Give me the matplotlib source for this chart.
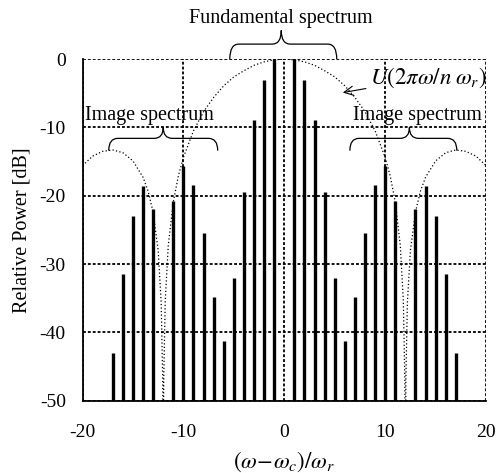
import numpy as np
import matplotlib
matplotlib.use("Agg")
import matplotlib.pyplot as plt
from matplotlib.path import Path
from matplotlib.patches import PathPatch

plt.rcParams['font.family'] = ['Liberation Serif', 'DejaVu Serif']
plt.rcParams['mathtext.fontset'] = 'stix'
plt.rcParams['axes.unicode_minus'] = False

# line spectrum (harmonic index, relative power in dB)
harmonics = [-17, -16, -15, -14, -13, -11, -10, -9, -8, -7, -6, -5, -4, -3, -2, -1,
             1, 2, 3, 4, 5, 6, 7, 8, 9, 10, 11, 13, 14, 15, 16, 17]
power_db = [-43.0, -31.5, -22.9, -18.6, -22.0, -20.7, -15.6, -18.5, -25.4, -34.9, -41.3,
            -32.0, -19.5, -8.9, -3.1, 0.0,
            0.0, -3.1, -8.9, -19.5, -32.0, -41.3, -34.9, -25.4, -18.5, -15.6, -20.7,
            -22.0, -18.6, -22.9, -31.5, -43.0]

# envelope U(2*pi*w/n*w_r)
env_x = [-20, -19, -18, -17, -16, -15, -14, -13.5, -13, -12.5, -12.2, -12.05, -12,
         -11.95, -11.8, -11.5, -11, -10.5, -10, -9, -8, -7, -6, -5, -4, -3, -2, -1, 0,
         1, 2, 3, 4, 5, 6, 7, 8, 9, 10, 10.5, 11, 11.5, 11.8, 11.95,
         12, 12.05, 12.2, 12.5, 13, 13.5, 14, 15, 16, 17, 18, 19, 20]
env_db = [-15.6, -14.2, -13.5, -13.3, -13.7, -14.9, -17.3, -19.3, -22.4, -28.0, -35.7, -47.0, -70.0,
          -47.0, -35.4, -27.3, -20.9, -17.1, -14.4, -10.5, -7.7, -5.6, -3.9, -2.6, -1.7, -0.9, -0.4, -0.1, 0.0,
          -0.1, -0.4, -0.9, -1.7, -2.6, -3.9, -5.6, -7.7, -10.5, -14.4, -17.1, -20.9, -27.3, -35.4, -47.0,
          -70.0, -47.0, -35.7, -28.0, -22.4, -19.3, -17.3, -14.9, -13.7, -13.3, -13.5, -14.2, -15.6]

xticks = [-20, -10, 0, 10, 20]
yticks = [0, -10, -20, -30, -40, -50]


def brace(ax, x0, x1, xm, y0, yh, ytip, clip=True):
    r = 0.9
    verts = [(x0, y0), (x0, yh), (x0 + r, yh), (xm - r, yh), (xm, yh), (xm, ytip),
             (xm, yh), (xm + r, yh), (x1 - r, yh), (x1, yh), (x1, y0)]
    codes = [Path.MOVETO, Path.CURVE3, Path.CURVE3, Path.LINETO, Path.CURVE3, Path.CURVE3,
             Path.CURVE3, Path.CURVE3, Path.LINETO, Path.CURVE3, Path.CURVE3]
    p = PathPatch(Path(verts, codes), fill=False, lw=0.9, color='k', clip_on=clip, zorder=5)
    ax.add_patch(p)


fig = plt.figure(figsize=(4.97, 4.73), dpi=100)
ax = fig.add_axes([0.166, 0.153, 0.812, 0.722])

ax.set_xlim(-20, 20)
ax.set_ylim(-50, 0)
ax.set_xticks(xticks)
ax.set_yticks(yticks)
ax.tick_params(length=0, labelsize=14)
ax.tick_params(axis='x', pad=17)
ax.tick_params(axis='y', pad=12)

ax.grid(True, color='k', linestyle=(0, (1.6, 1.1)), lw=1.3, zorder=1)
ax.set_axisbelow(True)
for s in ['top', 'right']:
    ax.spines[s].set_visible(False)
for s in ['left', 'bottom']:
    ax.spines[s].set_linewidth(1.3)

ax.plot(env_x, env_db, color='k', linestyle=(0, (1, 1.8)), lw=0.9, zorder=2)
ax.vlines(harmonics, -50, power_db, color='k', lw=2.4, zorder=3)

ax.set_xlabel(r'$(\omega\!-\!\omega_c)/\omega_r$', fontsize=16.5, labelpad=6)
ax.set_ylabel('Relative Power [dB]', fontsize=14.5, labelpad=6)

# fundamental spectrum brace above the axes
brace(ax, -5.4, 5.2, -0.3, 0.0, 2.2, 4.2, clip=False)
ax.text(-0.3, 6.0, 'Fundamental spectrum', fontsize=14.5, ha='center', va='center')

# image spectrum braces
brace(ax, -17.4, -6.6, -12.0, -13.4, -11.6, -10.0)
ax.text(-13.4, -8.2, 'Image spectrum', fontsize=14.5, ha='center', va='center', zorder=6)
brace(ax, 6.5, 17.1, 12.4, -13.4, -11.6, -10.0)
ax.text(13.2, -8.2, 'Image spectrum', fontsize=14.5, ha='center', va='center', zorder=6)

ax.annotate(r'$U(2\pi\omega/n\;\omega_r)$', xy=(5.8, -4.9), xytext=(8.5, -2.7),
            fontsize=16.5, va='center', ha='left', annotation_clip=False,
            arrowprops=dict(arrowstyle='->', lw=0.8, color='k', shrinkA=1, shrinkB=0))

fig.savefig('out.png', dpi=100)
